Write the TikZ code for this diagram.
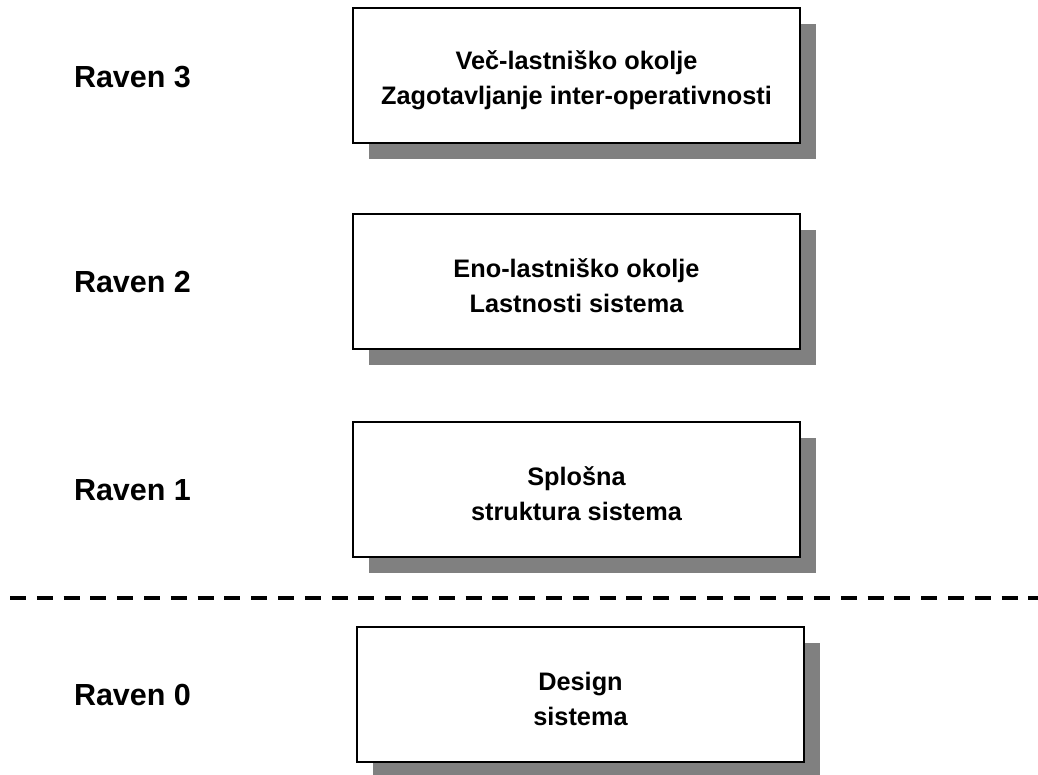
\documentclass[tikz,border=0pt]{standalone}
\usepackage{fontspec}
\setmainfont{Liberation Sans}
\usetikzlibrary{shadows}
\definecolor{shadowgray}{HTML}{808080}
\begin{document}
\begin{tikzpicture}[x=1pt,y=-1pt,
  levelbox/.style={draw=black, line width=2pt, fill=white, rectangle,
    minimum width=447pt, minimum height=135pt, inner sep=0pt,
    general shadow={fill=shadowgray, shadow xshift=16pt, shadow yshift=-16pt}},
  boxtext/.style={inner sep=0pt, align=center,
    font=\bfseries\fontsize{25.3}{35}\selectfont},
  levellabel/.style={anchor=base, inner sep=0pt, font=\bfseries\fontsize{30.5}{36}\selectfont},
  divider/.style={line width=4.7pt, dash pattern=on 16pt off 10.8pt}]
\useasboundingbox (0,0) rectangle (1038,774);

% level boxes
\node[levelbox] (b3) at (576.5,75.5) {};
\node[levelbox] (b2) at (576.5,281) {};
\node[levelbox] (b1) at (576.5,489) {};
\node[levelbox] (b0) at (580.5,694) {};

% box captions, set slightly below each box centre
\node[boxtext] (t3) at ([yshift=-4.5pt]b3.center) {Več-lastniško okolje\\Zagotavljanje inter-operativnosti};
\node[boxtext] (t2) at ([yshift=-4.5pt]b2.center) {Eno-lastniško okolje\\Lastnosti sistema};
\node[boxtext] (t1) at ([yshift=-4.5pt]b1.center) {Splošna\\struktura sistema};
\node[boxtext] (t0) at ([yshift=-4.5pt]b0.center) {Design\\sistema};

% level labels
\node[levellabel] (r3) at (132.5,87) {Raven 3};
\node[levellabel] (r2) at (132.5,292) {Raven 2};
\node[levellabel] (r1) at (132.5,500) {Raven 1};
\node[levellabel] (r0) at (132.5,705) {Raven 0};

% separator between design level and the rest
\coordinate (sepL) at (10,598);
\coordinate (sepR) at (1038,598);
\draw[divider] (sepL) -- (sepR);
\end{tikzpicture}
\end{document}
